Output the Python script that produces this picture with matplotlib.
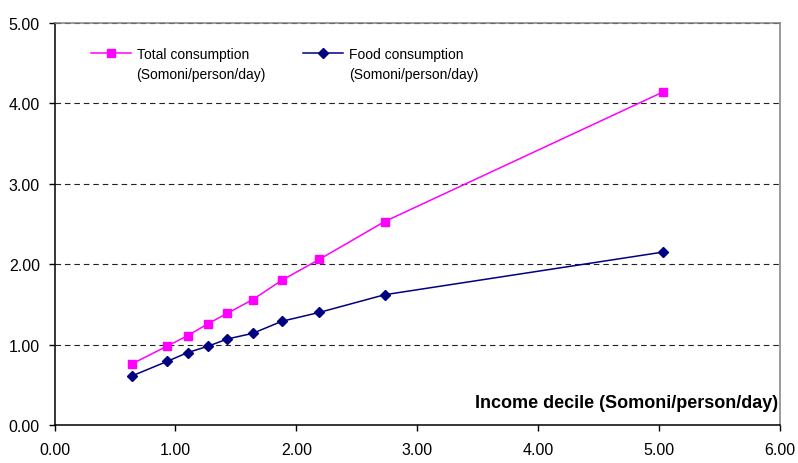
#!/usr/bin/env python3
# Consumption vs income decile, Tajikistan (Somoni/person/day)
import matplotlib
matplotlib.use("Agg")
import matplotlib.pyplot as plt
from matplotlib.ticker import FormatStrFormatter

# data
incomeDecile = [0.64, 0.93, 1.10, 1.27, 1.43, 1.64, 1.88, 2.19, 2.73, 5.03]
totalConsumption = [0.76, 0.98, 1.11, 1.26, 1.39, 1.56, 1.80, 2.06, 2.53, 4.14]
foodConsumption = [0.61, 0.79, 0.90, 0.98, 1.07, 1.14, 1.29, 1.40, 1.62, 2.15]
unitText = "(Somoni/person/day)"

plt.rcParams['font.family'] = ['Liberation Sans', 'DejaVu Sans']

fig = plt.figure(figsize=(7.98, 4.64), dpi=100)
ax = fig.add_axes([0.0683, 0.0819, 0.9091, 0.8664])

# dashed horizontal gridlines
ax.set_axisbelow(True)
ax.yaxis.grid(True, color='#222222', linestyle=(0, (5, 3.5)), linewidth=0.8)

lineTotal, = ax.plot(incomeDecile, totalConsumption, color='#FF00FF',
                     marker='s', markersize=6, linewidth=1.1,
                     label='Total consumption')
lineFood, = ax.plot(incomeDecile, foodConsumption, color='#000080',
                    marker='D', markersize=5, linewidth=1.1,
                    label='Food consumption')

ax.set_xlim(0, 6)
ax.set_ylim(0, 5)
ax.set_xticks([0, 1, 2, 3, 4, 5, 6])
ax.set_yticks([0, 1, 2, 3, 4, 5])
ax.xaxis.set_major_formatter(FormatStrFormatter('%.2f'))
ax.yaxis.set_major_formatter(FormatStrFormatter('%.2f'))
ax.tick_params(axis='x', direction='out', length=4, width=1, pad=8,
               labelsize=11.5, colors='black')
ax.tick_params(axis='y', direction='out', length=4, width=1, pad=6.5,
               labelsize=11.5, colors='black')

for side in ['left', 'bottom']:
    ax.spines[side].set_color('black')
    ax.spines[side].set_linewidth(1.1)
for side in ['top', 'right']:
    ax.spines[side].set_color('#808080')
    ax.spines[side].set_linewidth(1.1)

# x label sits inside the plot area, bottom right
ax.text(0.997, 0.055, 'Income decile (Somoni/person/day)', transform=ax.transAxes,
        ha='right', va='center', fontsize=13, fontweight='bold')

leg = ax.legend(loc='upper left', bbox_to_anchor=(0.05, 0.94), ncol=2,
                frameon=False, fontsize=10, borderpad=0, borderaxespad=0,
                handlelength=2.9, handletextpad=0.4, columnspacing=3.9)

# lay out the legend once so its texts have positions
fig.canvas.draw()

# second line of each legend entry, just below the first
for txt in leg.get_texts():
    ax.annotate(unitText, xy=(0, 0), xycoords=txt, xytext=(0, -4),
                textcoords='offset points', ha='left', va='top', fontsize=10)

fig.savefig('out.png', dpi=100)
